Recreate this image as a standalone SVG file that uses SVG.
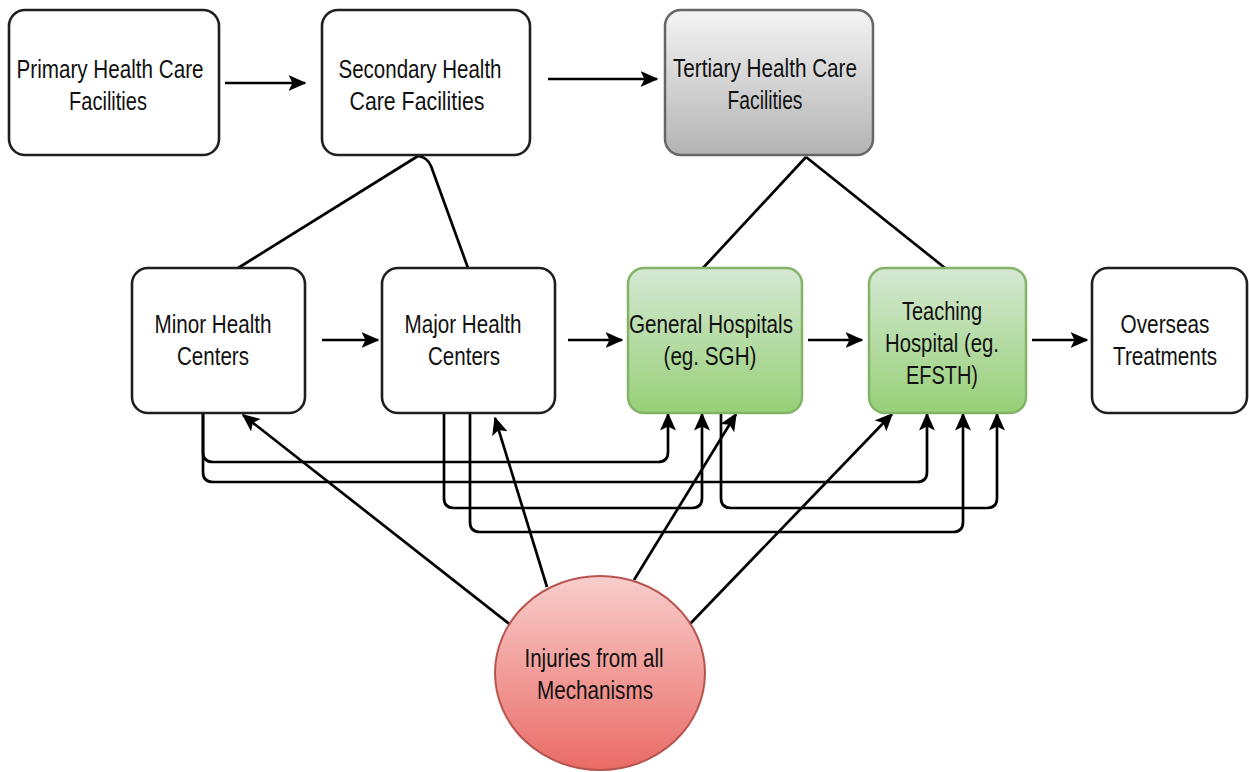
<svg xmlns="http://www.w3.org/2000/svg" width="1249" height="772" viewBox="0 0 1249 772">
<style>
.box{fill:#fff;stroke:#1f1f1f;stroke-width:2.6}
.t{font-family:"Liberation Sans",Arial,Helvetica,sans-serif;font-size:25.5px;fill:#111;text-anchor:middle}
.c{fill:none;stroke:#000;stroke-width:2.7;stroke-linejoin:round}
.a{marker-end:url(#arr)}
</style>
<defs>
<marker id="arr" markerUnits="userSpaceOnUse" markerWidth="18" markerHeight="16" viewBox="0 0 18 16" refX="16.5" refY="8" orient="auto">
<path d="M0,0 L18,8 L0,16 L4,8 z" fill="#000"/>
</marker>
<linearGradient id="gGray" x1="0" y1="0" x2="0" y2="1">
<stop offset="0" stop-color="#f4f4f4"/><stop offset="1" stop-color="#b3b3b3"/>
</linearGradient>
<linearGradient id="gGreen" x1="0" y1="0" x2="0" y2="1">
<stop offset="0" stop-color="#d5e8d4"/><stop offset="1" stop-color="#97d077"/>
</linearGradient>
<linearGradient id="gRed" x1="0" y1="0" x2="0" y2="1">
<stop offset="0" stop-color="#f8cecc"/><stop offset="1" stop-color="#ea6b66"/>
</linearGradient>
</defs>

<g id="connectors">
<path class="c a" d="M225,83 L305,83"/>
<path class="c a" d="M548,79 L657,79"/>
<path class="c" d="M418,156 L238,268"/>
<path class="c" d="M418,156 Q427,157 431,166 L468,268"/>
<path class="c" d="M806,157 L703,268"/>
<path class="c" d="M806,157 L945,268"/>
<path class="c a" d="M322,340 L378,340"/>
<path class="c a" d="M568,340 L622,340"/>
<path class="c a" d="M808,340 L862,340"/>
<path class="c a" d="M1032,340 L1087,340"/>
<path class="c a" d="M203,413 V452 Q203,462 213,462 H658 Q668,462 668,452 V414"/>
<path class="c a" d="M203,413 V472 Q203,482 213,482 H917 Q927,482 927,472 V414"/>
<path class="c a" d="M444,413 V498 Q444,508 454,508 H692 Q702,508 702,498 V414"/>
<path class="c a" d="M470,413 V522 Q470,532 480,532 H953 Q963,532 963,522 V414"/>
<path class="c a" d="M721,413 V498 Q721,508 731,508 H987 Q997,508 997,498 V414"/>
<path class="c a" d="M512,626 L243,415"/>
<path class="c a" d="M547,587 L495,418"/>
<path class="c a" d="M634,580 L736,414"/>
<path class="c a" d="M688,626 L892,414"/>
</g>

<g id="primary">
<rect class="box" x="9" y="10" width="210" height="145" rx="16"/>
<text class="t" x="110" y="78" textLength="187" lengthAdjust="spacingAndGlyphs">Primary Health Care</text>
<text class="t" x="108" y="110" textLength="78" lengthAdjust="spacingAndGlyphs">Facilities</text>
</g>
<g id="secondary">
<rect class="box" x="322" y="10" width="208" height="145" rx="16"/>
<text class="t" x="420" y="78" textLength="163" lengthAdjust="spacingAndGlyphs">Secondary Health</text>
<text class="t" x="417" y="110" textLength="135" lengthAdjust="spacingAndGlyphs">Care Facilities</text>
</g>
<g id="tertiary">
<rect x="665" y="10" width="208" height="145" rx="16" fill="url(#gGray)" stroke="#666" stroke-width="2.5"/>
<text class="t" x="765" y="77" textLength="184" lengthAdjust="spacingAndGlyphs">Tertiary Health Care</text>
<text class="t" x="765" y="109" textLength="75" lengthAdjust="spacingAndGlyphs">Facilities</text>
</g>
<g id="minor">
<rect class="box" x="132" y="268" width="173" height="145" rx="16"/>
<text class="t" x="213" y="333" textLength="117" lengthAdjust="spacingAndGlyphs">Minor Health</text>
<text class="t" x="213" y="365" textLength="72" lengthAdjust="spacingAndGlyphs">Centers</text>
</g>
<g id="major">
<rect class="box" x="382" y="268" width="173" height="145" rx="16"/>
<text class="t" x="463" y="333" textLength="117" lengthAdjust="spacingAndGlyphs">Major Health</text>
<text class="t" x="464" y="365" textLength="72" lengthAdjust="spacingAndGlyphs">Centers</text>
</g>
<g id="general">
<rect x="628" y="268" width="174" height="145" rx="16" fill="url(#gGreen)" stroke="#82b366" stroke-width="2.5"/>
<text class="t" x="711" y="333" textLength="164" lengthAdjust="spacingAndGlyphs">General Hospitals</text>
<text class="t" x="710" y="365" textLength="93" lengthAdjust="spacingAndGlyphs">(eg. SGH)</text>
</g>
<g id="teaching">
<rect x="869" y="268" width="157" height="145" rx="16" fill="url(#gGreen)" stroke="#82b366" stroke-width="2.5"/>
<text class="t" x="942" y="320" textLength="80" lengthAdjust="spacingAndGlyphs">Teaching</text>
<text class="t" x="942" y="352" textLength="114" lengthAdjust="spacingAndGlyphs">Hospital (eg.</text>
<text class="t" x="942" y="384" textLength="72" lengthAdjust="spacingAndGlyphs">EFSTH)</text>
</g>
<g id="overseas">
<rect class="box" x="1092" y="268" width="155" height="145" rx="16"/>
<text class="t" x="1165" y="333" textLength="89" lengthAdjust="spacingAndGlyphs">Overseas</text>
<text class="t" x="1165" y="365" textLength="104" lengthAdjust="spacingAndGlyphs">Treatments</text>
</g>
<g id="injuries">
<ellipse cx="600" cy="673" rx="105" ry="97" fill="url(#gRed)" stroke="#b85450" stroke-width="2"/>
<text class="t" x="594" y="667" textLength="139" lengthAdjust="spacingAndGlyphs">Injuries from all</text>
<text class="t" x="595" y="699" textLength="116" lengthAdjust="spacingAndGlyphs">Mechanisms</text>
</g>
</svg>
